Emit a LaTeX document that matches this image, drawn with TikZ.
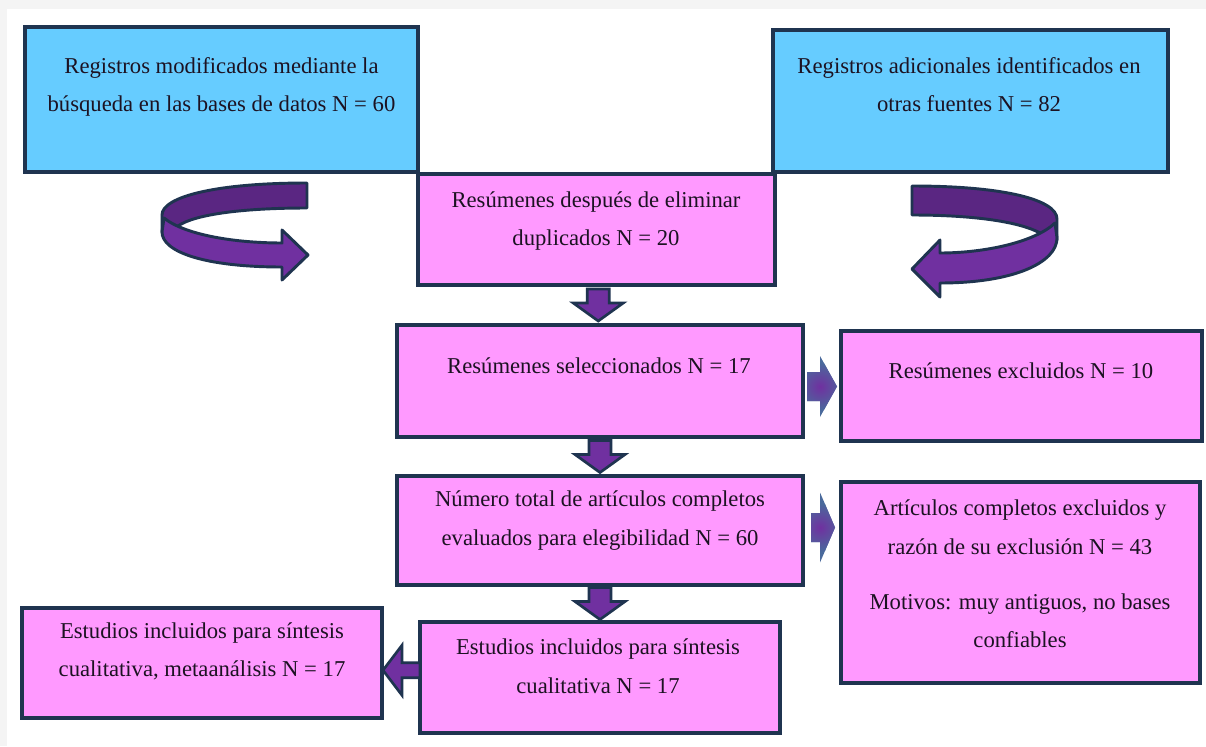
\documentclass[tikz,border=0pt]{standalone}
\usepackage{fontspec}
\setmainfont{Liberation Serif}
\usetikzlibrary{fit,calc}
\definecolor{navy}{HTML}{1F3450}
\definecolor{boxblue}{HTML}{66CCFF}
\definecolor{boxpink}{HTML}{FF99FF}
\definecolor{purp}{HTML}{7030A0}
\definecolor{darkpurp}{HTML}{5A2682}
\definecolor{steel}{HTML}{4A6A9C}
\definecolor{textc}{HTML}{1C1222}
\definecolor{margin}{HTML}{F4F4F4}
\tikzset{
  box/.style={draw=navy, line width=3pt, inner sep=0pt},
  bluebox/.style={box, fill=boxblue},
  pinkbox/.style={box, fill=boxpink},
  txt/.style={font=\fontsize{17}{20}\selectfont, text=textc, inner sep=0pt, anchor=base},
  barrow/.style={draw=navy, line width=2pt, fill=purp, line join=miter},
  band/.style={draw=navy, line width=2.2pt, line join=round},
  downarr/.pic={\draw[barrow] (-11,-16) -- (11,-16) -- (11,-2) -- (25,-2) -- (0,16) -- (-25,-2) -- (-11,-2) -- cycle;},
  leftarr/.pic={\draw[barrow] (19,-7.5) -- (19,7.5) -- (1,7.5) -- (1,25) -- (-18,0) -- (1,-25) -- (1,-7.5) -- cycle;}
}
\begin{document}
\begin{tikzpicture}[x=0.75pt,y=-0.75pt]
\useasboundingbox (0,0) rectangle (1206,746);
\fill[margin] (0,0) rectangle (1206,746);
\fill[white] (7,9) rectangle (1206,746);

% boxes
\node[bluebox, fit={(25,27) (418,172)}] (b1) {};
\node[bluebox, fit={(773,30) (1168,172)}] (b2) {};
\node[pinkbox, fit={(418,174) (775,285)}] (b3) {};
\node[pinkbox, fit={(397,325) (803,437)}] (b4) {};
\node[pinkbox, fit={(841,331) (1202,441)}] (b5) {};
\node[pinkbox, fit={(397,476) (803,585)}] (b6) {};
\node[pinkbox, fit={(841,482) (1200,683)}] (b7) {};
\node[pinkbox, fit={(420,622) (780,733)}] (b8) {};
\node[pinkbox, fit={(22,608) (382,718)}] (b9) {};

% texts
\node[txt] (t1a) at (221.5,73) {Registros modificados mediante la};
\node[txt] (t1b) at (221.5,111) {búsqueda en las bases de datos N = 60};
\node[txt] (t2a) at (969,73) {Registros adicionales identificados en};
\node[txt] (t2b) at (969,111) {otras fuentes N = 82};
\node[txt] (t3a) at (596,207) {Resúmenes después de eliminar};
\node[txt] (t3b) at (596,245) {duplicados N = 20};
\node[txt] (t4) at (599,373) {Resúmenes seleccionados N = 17};
\node[txt] (t5) at (1021,378) {Resúmenes excluidos N = 10};
\node[txt] (t6a) at (600,506) {Número total de artículos completos};
\node[txt] (t6b) at (600,545) {evaluados para elegibilidad N = 60};
\node[txt] (t7a) at (1020,515) {Artículos completos excluidos y};
\node[txt] (t7b) at (1020,554) {razón de su exclusión N = 43};
\node[txt] (t7c) at (1020,609) {Motivos: muy antiguos, no bases};
\node[txt] (t7d) at (1020,647) {confiables};
\node[txt] (t8a) at (598,654) {Estudios incluidos para síntesis};
\node[txt] (t8b) at (598,693) {cualitativa N = 17};
\node[txt] (t9a) at (202,638) {Estudios incluidos para síntesis};
\node[txt] (t9b) at (202,676) {cualitativa, metaanálisis N = 17};

% down block arrows
\pic at ($(b3.south)!0.5!(b4.north)$) {downarr};
\pic at ($(b4.south)!0.5!(b6.north)$) {downarr};
\pic at ($(b6.south)!0.5!(b8.north)$) {downarr};
% left block arrow
\pic at ($(b8.west)!0.5!(b9.east)$) {leftarr};

% right block arrows (steel with purple glow)
\coordinate (r1) at ($($(b4.east)!0.5!(b5.west)$)+(0,3)$);
\begin{scope}
\path[clip] ($(r1)+(-15,-14.5)$) -- ($(r1)+(-2,-14.5)$) -- ($(r1)+(-2,-30.5)$) -- ($(r1)+(15,0)$) -- ($(r1)+(-2,30.5)$) -- ($(r1)+(-2,14.5)$) -- ($(r1)+(-15,14.5)$) -- cycle;
\fill[steel] ($(r1)+(-20,-40)$) rectangle ($(r1)+(20,40)$);
\shade[inner color=purp, outer color=steel] ($(r1)+(-2,0)$) circle[radius=24];
\end{scope}
\coordinate (r2) at ($(b6.east)!0.5!(b6.east -| b7.west)+(0,-3)$);
\begin{scope}
\path[clip] ($(r2)+(-11,-14.5)$) -- ($(r2)+(-2,-14.5)$) -- ($(r2)+(-2,-35)$) -- ($(r2)+(13,0)$) -- ($(r2)+(-2,35)$) -- ($(r2)+(-2,14.5)$) -- ($(r2)+(-11,14.5)$) -- cycle;
\fill[steel] ($(r2)+(-20,-40)$) rectangle ($(r2)+(20,40)$);
\shade[inner color=purp, outer color=steel] ($(r2)+(-2,0)$) circle[radius=24];
\end{scope}

% left curved arrow
\draw[band, fill=darkpurp] (307,183) .. controls (215,183) and (162,197) .. (162,215) -- (162,232) -- (178,226) .. controls (195,214) and (245,208) .. (307,208) -- cycle;
\draw[band, fill=purp] (164,218) .. controls (185,235) and (235,243) .. (282,243) -- (282,230) -- (308,255) -- (282,280) -- (282,267) .. controls (205,267) and (162,252) .. (162,232) -- cycle;

% right curved arrow
\draw[band, fill=darkpurp] (912,186) .. controls (1005,186) and (1057,200) .. (1057,219) -- (1057,240) -- (1040,233) .. controls (1020,222) and (975,215) .. (912,215) -- cycle;
\draw[band, fill=purp] (1055,223) .. controls (1035,242) and (985,253) .. (940,253) -- (940,240) -- (912,269) -- (940,297) -- (940,283) .. controls (1015,283) and (1057,262) .. (1057,238) -- cycle;
\end{tikzpicture}
\end{document}
